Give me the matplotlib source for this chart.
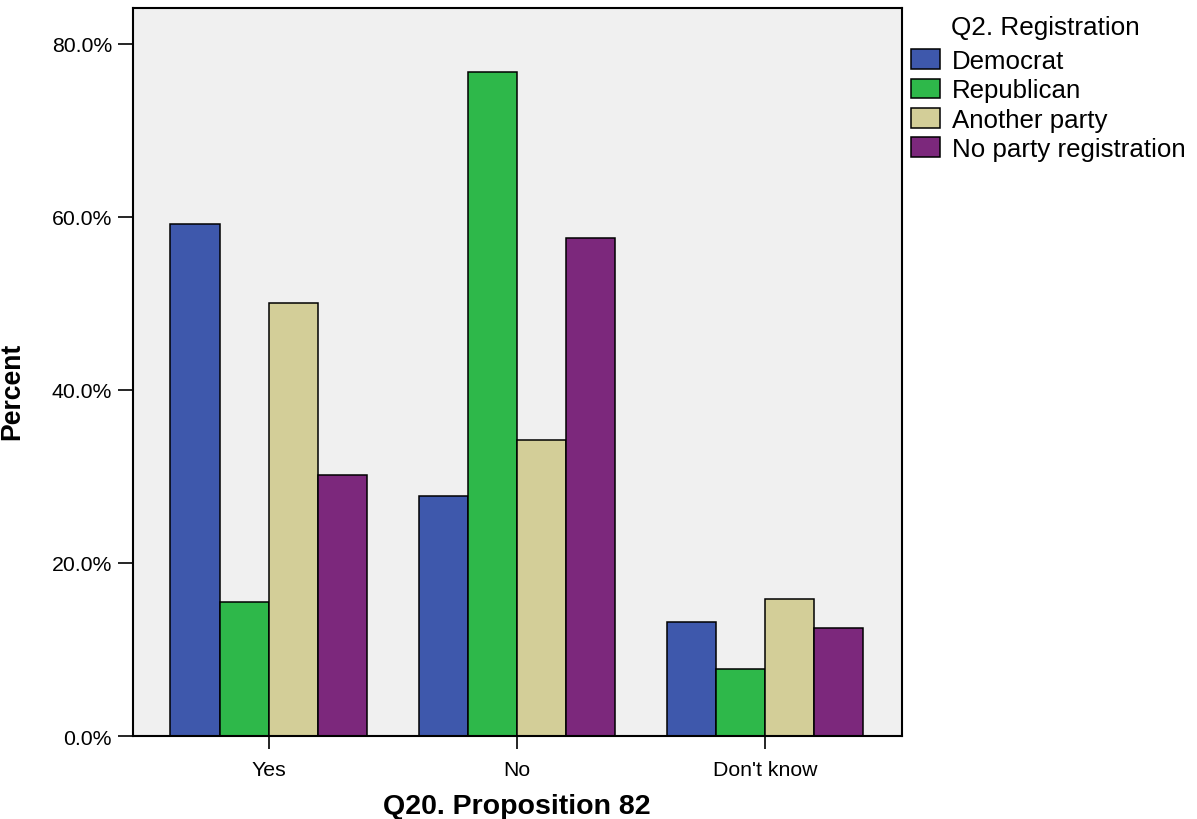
import matplotlib
matplotlib.use("Agg")
import matplotlib.pyplot as plt
import numpy as np
from matplotlib.ticker import FuncFormatter

plt.rcParams['font.family'] = ['Liberation Sans', 'DejaVu Sans']

categories = ["Yes", "No", "Don't know"]
parties = ["Democrat", "Republican", "Another party", "No party registration"]
democrat = [59.1, 27.7, 13.2]
republican = [15.5, 76.7, 7.7]
another_party = [50.0, 34.2, 15.8]
no_party = [30.1, 57.5, 12.5]
colors = ["#3e58ac", "#2eb84a", "#d3ce98", "#7c287c"]

series = [democrat, republican, another_party, no_party]

fig = plt.figure(figsize=(11.97, 8.2), dpi=100)
ax = fig.add_axes([0.1109, 0.1012, 0.6424, 0.8878])
ax.set_facecolor("#f0f0f0")

x = np.arange(len(categories))
width = 0.198
handles = []
for i, (vals, name, c) in enumerate(zip(series, parties, colors)):
    offset = (i - 1.5) * width
    h = ax.bar(x + offset, vals, width, color=c, edgecolor="black",
               linewidth=1.1, label=name, zorder=2)
    handles.append(h)

ax.set_xlim(-0.548, 2.551)
ax.set_ylim(0, 84.1)
ax.set_yticks([0, 20, 40, 60, 80])
ax.yaxis.set_major_formatter(FuncFormatter(lambda v, p: "%.1f%%" % v))
ax.set_xticks(x)
ax.set_xticklabels(categories)
ax.tick_params(axis="y", length=11, width=1.2, labelsize=15.3, pad=4)
ax.tick_params(axis="x", length=9, width=1.2, labelsize=15.3, pad=8)
for s in ax.spines.values():
    s.set_linewidth(1.5)

ax.set_xlabel("Q20. Proposition 82", fontsize=20.5, fontweight="bold")
ax.xaxis.set_label_coords(0.5, -0.078)
ax.set_ylabel("Percent", fontsize=19.2, fontweight="bold")
ax.yaxis.set_label_coords(-0.14, 0.475)

fig.text(951 / 1197, 1 - 28 / 820, "Q2. Registration", fontsize=18.8,
         va="center", ha="left")
ax.legend(handles=handles, loc="upper left",
          bbox_to_anchor=(911 / 1197, 1 - 50 / 820),
          bbox_transform=fig.transFigure, frameon=False, fontsize=18.6,
          borderpad=0, borderaxespad=0, handlelength=1.12,
          handleheight=0.8, handletextpad=0.45, labelspacing=0.21)

plt.savefig("out.png", dpi=100)
